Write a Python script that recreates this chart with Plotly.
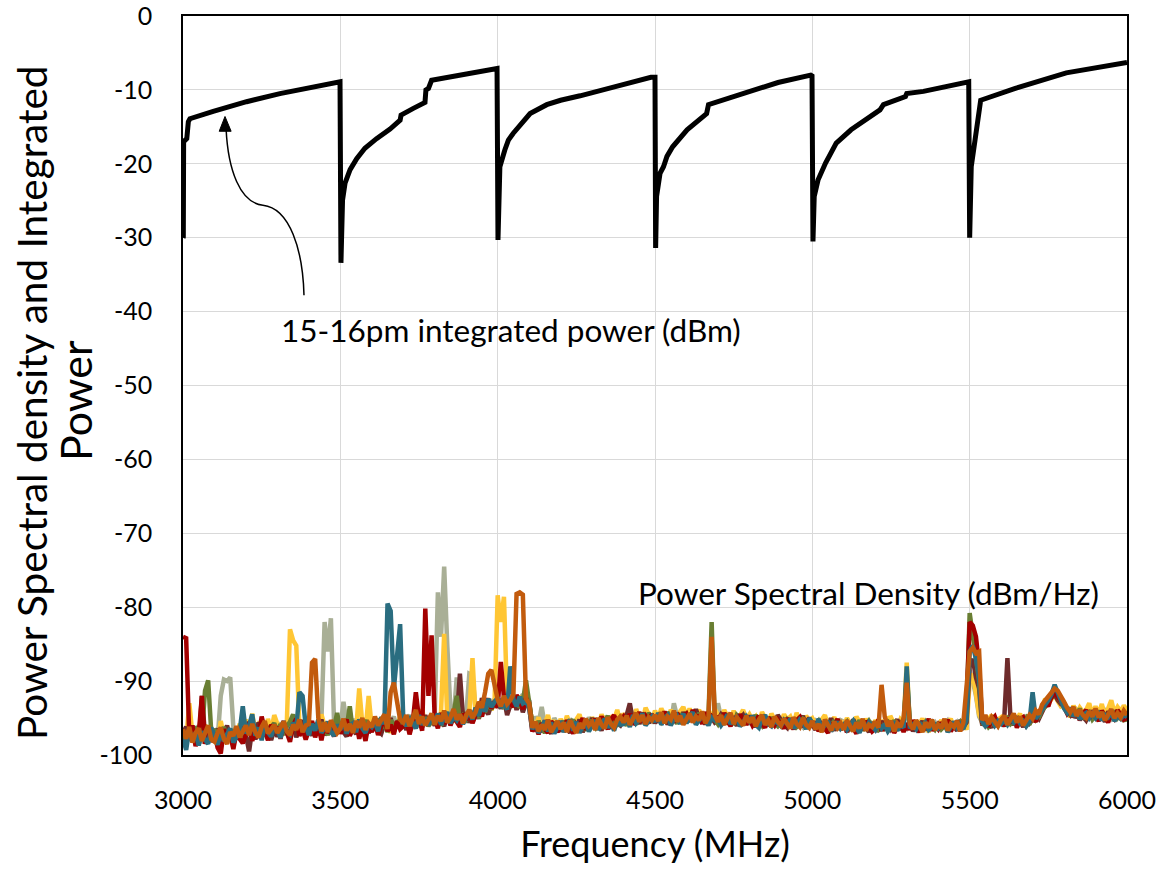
import plotly.graph_objects as go

# ---------------- data ----------------
psd_freq = list(range(3000, 6001, 10))  # MHz

psd_orange = [
-96.5,-97.8,-96.2,-98.3,-97.0,-96.4,-98.1,-97.2,-96.0,-97.9,
-98.2,-97.0,-96.3,-97.8,-98.5,-96.9,-97.4,-96.1,-97.6,-96.8,
-96.0,-97.3,-95.8,-96.9,-97.6,-96.2,-95.4,-97.1,-96.5,-95.9,
-97.0,-96.1,-95.5,-96.8,-97.3,-95.9,-96.6,-95.2,-96.9,-96.0,
-95.8,-87.5,-87.0,-95.0,-96.8,-95.6,-96.9,-95.3,-96.2,-97.0,
-96.4,-95.1,-96.7,-95.8,-97.0,-95.4,-96.3,-95.0,-96.6,-95.7,
-96.2,-94.8,-96.0,-95.3,-94.5,-96.5,-91.5,-90.2,-92.5,-95.2,
-95.6,-94.6,-96.1,-95.0,-93.9,-95.8,-94.8,-96.0,-95.1,-94.4,
-95.9,-94.7,-95.4,-94.0,-95.6,-94.9,-93.8,-95.2,-94.5,-95.7,
-94.6,-93.9,-95.0,-94.2,-92.8,-93.6,-91.5,-89.0,-88.5,-90.8,
-92.5,-93.4,-92.0,-93.1,-92.6,-91.8,-78.2,-78.0,-78.3,-92.4,
-93.0,-96.3,-95.5,-96.8,-95.9,-96.6,-95.2,-96.9,-96.0,-95.4,
-96.5,-95.6,-96.9,-95.3,-96.2,-97.0,-95.7,-96.4,-95.1,-96.0,
-95.5,-96.6,-95.0,-95.9,-96.4,-94.9,-95.8,-96.3,-95.2,-94.8,
-95.6,-94.7,-95.9,-95.1,-94.3,-95.5,-94.6,-95.8,-94.9,-95.3,
-94.6,-95.4,-94.2,-95.7,-94.8,-95.2,-94.0,-95.5,-94.7,-95.9,
-95.0,-94.4,-95.6,-94.8,-95.3,-94.1,-95.7,-94.9,-84.0,-94.6,
-95.5,-94.6,-95.9,-95.0,-94.3,-95.8,-94.9,-95.4,-96.0,-94.7,
-95.6,-94.9,-96.1,-95.2,-94.6,-95.9,-95.3,-96.2,-94.8,-95.5,
-96.0,-95.1,-95.7,-96.4,-94.9,-95.8,-96.2,-95.0,-95.9,-96.3,
-95.4,-96.5,-95.8,-96.9,-95.2,-96.1,-96.7,-95.5,-96.3,-95.7,
-96.6,-95.3,-96.0,-96.8,-95.6,-96.4,-95.1,-96.7,-95.9,-96.2,
-95.5,-96.3,-90.5,-94.8,-96.1,-95.4,-96.8,-95.7,-96.2,-95.0,
-90.2,-95.8,-96.5,-95.3,-96.0,-96.9,-95.6,-96.3,-95.2,-96.6,
-95.9,-96.4,-95.1,-96.7,-95.8,-96.2,-95.4,-96.8,-95.6,-90.0,
-86.0,-85.5,-86.2,-86.0,-95.3,-94.6,-95.8,-94.9,-95.5,-96.1,
-95.2,-94.7,-95.9,-95.0,-94.4,-95.6,-94.8,-96.0,-95.3,-94.6,
-95.1,-94.0,-94.5,-93.2,-92.6,-92.0,-91.6,-91.0,-91.3,-92.2,
-92.8,-93.6,-94.2,-93.5,-94.7,-93.9,-94.6,-95.0,-94.1,-94.8,
-93.7,-94.9,-94.2,-95.3,-94.4,-93.8,-95.0,-94.3,-94.9,-94.0,
-94.6]

psd_red = [
-84.0,-84.2,-97.5,-96.0,-98.8,-97.2,-92.0,-98.5,-96.8,-97.9,
-97.0,-99.0,-99.8,-96.5,-98.0,-97.3,-99.2,-96.9,-97.8,-98.4,
-97.2,-95.5,-98.1,-96.3,-97.7,-94.8,-96.6,-98.0,-95.9,-96.9,
-96.2,-97.8,-95.7,-96.9,-98.2,-96.0,-95.1,-97.4,-96.5,-97.9,
-96.7,-95.4,-97.6,-96.1,-98.0,-95.8,-97.0,-96.3,-97.5,-95.9,
-97.1,-96.0,-95.2,-97.4,-96.6,-95.5,-97.8,-96.2,-98.1,-95.8,
-96.9,-95.6,-97.3,-96.0,-95.0,-96.8,-95.9,-97.2,-95.4,-96.5,
-96.1,-95.2,-97.2,-95.6,-91.5,-95.1,-96.7,-80.2,-92.0,-83.8,
-95.0,-96.4,-94.3,-95.8,-94.6,-96.0,-94.9,-95.5,-96.2,-94.4,
-95.3,-94.1,-95.7,-94.6,-93.5,-94.8,-93.0,-92.4,-93.7,-92.9,
-93.6,-87.4,-92.2,-93.9,-92.8,-93.5,-91.9,-92.7,-93.8,-92.3,
-93.4,-96.8,-96.0,-97.2,-95.7,-96.5,-97.0,-95.4,-96.3,-96.9,
-95.9,-96.7,-95.3,-96.4,-97.1,-95.8,-96.2,-95.0,-96.6,-95.5,
-96.3,-95.1,-96.0,-94.8,-95.7,-96.5,-95.2,-94.6,-95.9,-95.4,
-94.8,-95.7,-94.4,-95.9,-95.0,-94.2,-95.6,-94.7,-95.3,-94.5,
-95.3,-94.5,-95.8,-94.1,-95.4,-94.7,-95.6,-94.3,-95.1,-94.8,
-94.4,-95.5,-93.9,-95.1,-94.6,-95.8,-94.2,-95.3,-94.7,-95.0,
-94.9,-95.7,-94.3,-95.4,-96.1,-94.8,-95.6,-94.5,-95.2,-95.9,
-95.1,-96.0,-95.4,-94.7,-95.8,-96.3,-94.9,-95.5,-96.0,-95.2,
-95.7,-96.4,-95.0,-95.9,-96.5,-95.3,-94.9,-96.2,-95.6,-95.0,
-96.2,-95.5,-96.8,-95.9,-96.5,-97.0,-95.7,-96.4,-95.1,-96.6,
-95.8,-96.9,-95.5,-96.3,-97.1,-95.9,-96.6,-95.4,-96.1,-96.8,
-96.4,-95.2,-96.7,-95.9,-96.3,-95.6,-97.0,-96.1,-95.5,-96.9,
-95.7,-96.6,-95.3,-96.2,-96.9,-95.8,-96.4,-95.1,-96.7,-96.0,
-96.5,-95.6,-96.3,-95.2,-96.8,-96.0,-95.4,-96.6,-95.9,-93.0,
-82.0,-82.5,-84.0,-88.0,-95.8,-94.9,-96.2,-95.3,-94.8,-95.9,
-95.4,-96.1,-95.0,-95.7,-94.6,-96.3,-95.2,-94.9,-96.0,-95.5,
-94.8,-95.5,-94.2,-93.6,-92.9,-93.4,-92.1,-91.5,-92.3,-92.8,
-93.5,-94.4,-93.8,-94.9,-94.1,-95.3,-94.5,-93.9,-95.1,-94.3,
-94.8,-95.4,-94.0,-94.9,-95.6,-94.4,-95.1,-93.9,-94.7,-95.2,
-95.0]

psd_maroon = [
-97.0,-96.2,-98.0,-96.8,-97.5,-98.6,-92.0,-97.3,-96.5,-98.2,
-97.6,-96.4,-98.9,-97.1,-96.0,-97.8,-98.4,-96.7,-97.4,-96.1,
-97.3,-99.5,-96.5,-97.9,-95.6,-96.8,-97.4,-96.1,-98.0,-96.6,
-97.5,-96.3,-95.4,-97.2,-96.7,-95.9,-97.6,-96.4,-95.3,-97.0,
-96.1,-97.4,-95.7,-96.9,-95.2,-97.3,-96.5,-95.8,-97.1,-96.4,
-95.6,-96.9,-97.5,-95.9,-96.3,-97.2,-95.5,-96.8,-95.3,-97.0,
-96.3,-95.2,-96.7,-97.1,-95.8,-96.2,-95.0,-96.9,-95.6,-96.4,
-95.5,-96.6,-94.9,-96.2,-95.7,-95.0,-96.3,-94.6,-95.9,-95.2,
-96.0,-94.8,-95.3,-96.1,-94.5,-95.7,-94.2,-95.4,-89.0,-94.9,
-94.3,-95.6,-94.7,-93.9,-95.1,-92.3,-93.8,-94.5,-93.2,-92.8,
-92.9,-93.7,-92.4,-94.6,-93.3,-92.1,-93.9,-92.6,-94.2,-93.0,
-92.8,-95.9,-96.7,-95.6,-96.9,-95.3,-96.4,-97.1,-95.8,-96.2,
-96.8,-95.4,-96.1,-97.0,-95.6,-96.5,-95.2,-96.9,-95.9,-96.3,
-95.0,-96.2,-95.6,-96.7,-95.3,-95.9,-96.4,-95.1,-95.7,-96.0,
-95.2,-94.6,-93.0,-95.4,-94.9,-95.8,-94.3,-95.1,-95.7,-94.6,
-95.7,-94.9,-95.2,-94.4,-95.9,-94.6,-95.3,-94.8,-95.6,-94.2,
-95.2,-94.7,-95.4,-93.8,-95.0,-94.5,-95.9,-94.3,-94.9,-95.6,
-95.3,-94.5,-95.0,-95.8,-94.7,-95.4,-96.0,-95.1,-94.6,-95.5,
-94.7,-95.5,-96.2,-95.0,-95.7,-94.8,-96.0,-95.4,-95.9,-94.6,
-95.4,-95.9,-96.3,-95.1,-95.6,-96.1,-95.5,-94.7,-96.0,-95.3,
-95.9,-96.6,-95.3,-96.1,-95.8,-96.4,-95.0,-96.7,-95.6,-96.2,
-96.3,-95.7,-96.5,-95.2,-96.0,-96.8,-95.5,-96.2,-96.9,-95.6,
-96.1,-96.8,-95.4,-96.3,-95.7,-96.5,-95.9,-95.2,-96.6,-95.8,
-96.3,-95.5,-96.8,-95.9,-96.2,-95.4,-96.6,-96.0,-95.6,-96.4,
-95.8,-96.3,-95.5,-96.6,-95.7,-96.1,-96.7,-95.3,-96.2,-95.6,
-88.0,-87.0,-89.5,-91.0,-96.0,-95.2,-95.7,-96.3,-95.0,-95.8,
-95.6,-95.0,-86.9,-95.3,-95.9,-94.8,-95.5,-96.2,-95.1,-95.7,
-95.2,-94.6,-95.1,-94.0,-93.3,-92.7,-92.2,-91.8,-92.6,-93.1,
-93.0,-94.1,-94.6,-93.8,-95.0,-94.2,-94.8,-95.3,-94.4,-94.9,
-94.3,-95.0,-94.6,-95.5,-94.1,-94.8,-95.2,-94.5,-95.0,-94.7,
-94.5]

psd_gold = [
-96.8,-98.0,-93.0,-97.2,-96.4,-98.3,-97.0,-95.9,-97.7,-96.6,
-96.9,-98.2,-95.4,-97.5,-96.2,-98.0,-96.8,-97.3,-95.8,-96.5,
-95.2,-96.9,-94.4,-97.0,-95.9,-96.4,-97.5,-95.1,-96.8,-94.6,
-95.8,-96.7,-97.2,-95.5,-83.0,-84.5,-85.2,-96.2,-95.3,-96.9,
-95.4,-96.8,-95.9,-97.3,-94.5,-96.1,-97.0,-95.6,-96.4,-97.1,
-95.8,-96.5,-97.2,-95.3,-96.0,-96.7,-91.0,-95.8,-96.6,-92.0,
-96.3,-95.1,-96.8,-94.9,-96.1,-95.4,-97.0,-95.7,-96.2,-94.8,
-95.9,-94.7,-96.3,-95.2,-94.5,-95.8,-93.8,-96.0,-94.9,-95.5,
-94.6,-95.8,-94.2,-83.6,-95.3,-94.4,-95.6,-94.0,-95.1,-94.7,
-95.4,-94.3,-86.9,-94.8,-93.7,-94.5,-93.1,-92.7,-93.9,-93.0,
-78.4,-82.0,-78.6,-92.8,-93.6,-92.2,-93.4,-92.0,-93.1,-92.6,
-93.3,-95.4,-96.1,-94.9,-96.5,-95.7,-94.6,-96.2,-95.3,-96.8,
-95.1,-96.3,-94.7,-95.8,-96.6,-95.2,-94.5,-96.0,-95.4,-96.5,
-94.9,-95.7,-96.3,-94.5,-95.5,-96.0,-94.7,-95.2,-93.9,-95.6,
-94.4,-95.2,-94.0,-95.6,-93.8,-94.9,-95.5,-93.6,-94.7,-95.4,
-94.0,-95.1,-93.7,-94.8,-95.5,-93.9,-94.6,-95.3,-94.1,-93.5,
-94.8,-93.7,-95.2,-94.4,-93.9,-95.0,-94.3,-95.6,-94.5,-93.8,
-94.6,-95.2,-93.9,-94.9,-95.6,-94.0,-95.3,-94.7,-93.9,-95.1,
-94.5,-95.3,-94.8,-95.9,-94.2,-95.0,-95.7,-94.4,-95.2,-94.9,
-95.6,-94.5,-95.2,-94.8,-95.9,-94.3,-95.4,-96.0,-94.7,-95.3,
-95.0,-95.8,-96.4,-95.2,-94.6,-96.0,-95.5,-94.9,-96.2,-95.4,
-96.1,-95.0,-95.7,-96.5,-94.8,-95.6,-96.3,-95.1,-95.8,-96.6,
-95.3,-96.0,-95.6,-96.7,-95.0,-94.9,-95.8,-96.4,-95.2,-95.7,
-87.5,-96.1,-95.4,-96.6,-95.8,-95.1,-96.0,-96.9,-95.5,-96.2,
-96.0,-95.3,-96.5,-95.8,-95.1,-96.4,-95.7,-96.1,-95.4,-96.6,
-90.0,-89.0,-92.0,-94.5,-95.4,-96.0,-95.1,-94.6,-95.8,-95.2,
-94.9,-95.6,-95.2,-94.5,-95.9,-95.0,-94.4,-95.7,-95.3,-94.8,
-95.4,-93.9,-94.8,-93.6,-92.4,-93.0,-92.5,-91.9,-92.7,-93.4,
-93.2,-93.8,-94.9,-93.3,-94.5,-93.6,-94.2,-93.9,-93.0,-94.6,
-93.4,-94.5,-93.1,-94.8,-93.7,-92.6,-94.3,-93.5,-94.1,-93.3,
-94.0]

psd_sage = [
-97.5,-96.3,-98.1,-96.9,-97.6,-96.0,-98.4,-97.1,-96.5,-97.8,
-96.7,-97.9,-92.0,-89.8,-90.0,-89.5,-96.2,-97.5,-96.8,-98.0,
-96.4,-97.2,-95.8,-97.6,-96.1,-95.3,-97.0,-96.6,-95.5,-96.9,
-96.8,-95.6,-97.1,-96.2,-95.4,-96.9,-95.8,-97.3,-96.0,-95.5,
-96.6,-95.9,-97.2,-96.0,-95.2,-82.0,-86.0,-81.5,-95.6,-94.8,
-96.3,-92.8,-95.7,-96.8,-95.1,-96.5,-95.8,-97.0,-95.4,-96.2,
-95.6,-96.7,-95.2,-96.1,-94.9,-96.4,-95.5,-94.8,-96.3,-95.7,
-96.0,-95.1,-94.6,-95.9,-95.3,-96.2,-94.7,-95.6,-94.9,-95.8,
-94.5,-78.0,-84.0,-74.5,-85.3,-94.0,-95.0,-89.5,-94.2,-95.0,
-94.6,-89.0,-89.2,-94.0,-93.4,-94.7,-92.9,-93.6,-92.5,-93.3,
-93.1,-92.4,-93.8,-92.0,-93.5,-92.7,-93.2,-92.5,-91.8,-93.4,
-92.6,-96.2,-94.8,-95.7,-93.5,-96.0,-95.3,-96.6,-95.0,-95.8,
-96.2,-95.5,-96.8,-95.1,-95.9,-96.4,-95.0,-95.7,-96.3,-94.9,
-95.7,-95.0,-96.1,-95.4,-94.8,-95.9,-95.3,-96.0,-94.6,-95.5,
-95.1,-94.5,-95.6,-94.9,-95.3,-94.2,-95.8,-95.0,-94.4,-95.7,
-94.9,-95.6,-94.3,-95.2,-94.5,-95.9,-93.0,-94.8,-95.4,-94.6,
-95.3,-94.6,-95.0,-95.7,-94.2,-95.4,-94.8,-95.1,-94.7,-95.5,
-93.0,-95.0,-94.6,-95.3,-95.8,-94.4,-95.1,-95.7,-94.8,-95.2,
-95.9,-94.6,-95.3,-95.7,-94.9,-96.1,-95.2,-94.8,-95.6,-95.1,
-95.2,-95.8,-94.9,-96.0,-95.4,-95.0,-95.7,-96.2,-95.1,-95.8,
-96.1,-95.4,-95.9,-96.5,-95.6,-95.1,-96.3,-95.7,-96.0,-95.3,
-95.5,-96.2,-95.9,-95.3,-96.6,-95.8,-96.0,-95.4,-96.4,-95.7,
-95.9,-95.4,-96.2,-95.6,-96.5,-95.2,-96.0,-95.8,-96.3,-95.5,
-94.0,-95.9,-96.3,-95.7,-96.0,-95.5,-96.4,-95.8,-96.1,-95.6,
-96.2,-95.7,-96.0,-95.4,-96.3,-95.9,-95.5,-96.2,-95.8,-95.1,
-88.5,-90.0,-92.0,-94.8,-95.6,-95.2,-95.9,-95.4,-95.1,-95.7,
-95.1,-95.8,-95.4,-94.9,-95.6,-95.2,-95.0,-95.5,-94.6,-95.3,
-95.0,-94.9,-94.3,-93.8,-93.1,-92.8,-92.3,-91.7,-92.0,-93.0,
-93.4,-94.0,-94.3,-94.7,-93.9,-94.4,-94.9,-94.1,-94.6,-95.0,
-94.5,-94.2,-94.9,-94.0,-94.6,-95.1,-94.4,-94.8,-94.2,-94.9,
-94.7]

psd_teal = [
-97.8,-99.3,-96.5,-98.2,-97.0,-98.7,-96.8,-97.9,-98.5,-96.3,
-97.4,-98.6,-96.9,-98.1,-97.2,-96.4,-98.3,-97.6,-96.8,-93.4,
-97.1,-96.0,-94.5,-97.4,-96.3,-98.0,-95.8,-96.9,-97.5,-96.2,
-96.6,-97.7,-95.9,-96.8,-97.2,-95.6,-96.4,-91.5,-92.0,-96.1,
-97.3,-95.8,-96.7,-95.2,-97.0,-96.3,-95.5,-96.9,-97.4,-95.9,
-96.6,-95.4,-97.1,-96.0,-95.7,-96.9,-95.2,-96.4,-97.0,-95.8,
-96.2,-95.5,-96.8,-94.9,-95.8,-79.5,-80.5,-91.0,-86.0,-82.3,
-95.0,-96.1,-94.8,-95.7,-96.4,-94.6,-95.9,-95.1,-96.0,-94.7,
-95.6,-94.4,-95.9,-95.0,-94.2,-95.7,-94.8,-95.3,-94.5,-95.8,
-94.9,-94.0,-95.2,-93.6,-94.7,-93.3,-94.1,-92.4,-93.5,-92.9,
-92.2,-93.6,-92.8,-93.9,-88.0,-92.5,-93.4,-92.1,-93.0,-92.7,
-93.6,-96.5,-95.7,-97.0,-96.1,-95.4,-96.8,-95.6,-97.1,-96.3,
-95.4,-96.9,-96.0,-95.2,-96.7,-95.5,-97.0,-96.1,-95.7,-96.8,
-96.0,-95.3,-96.6,-95.7,-95.1,-96.3,-95.6,-96.7,-95.4,-95.9,
-95.8,-95.0,-96.2,-94.6,-95.7,-95.2,-94.4,-96.0,-95.3,-94.8,
-95.5,-94.3,-95.9,-95.0,-94.6,-96.0,-95.2,-94.7,-95.8,-94.4,
-95.7,-95.0,-94.2,-95.9,-95.4,-94.7,-95.2,-96.0,-94.9,-95.3,
-95.1,-96.0,-95.4,-94.5,-95.8,-95.2,-94.9,-96.1,-95.6,-94.8,
-95.4,-94.7,-95.9,-96.3,-95.1,-94.6,-95.8,-96.1,-95.3,-95.7,
-96.1,-95.3,-95.8,-95.1,-96.4,-95.9,-95.2,-95.6,-96.5,-95.0,
-95.7,-96.3,-95.1,-96.6,-95.9,-95.4,-96.8,-96.0,-95.5,-96.4,
-95.9,-96.6,-96.1,-95.4,-96.3,-97.0,-95.8,-96.5,-95.6,-96.2,
-96.6,-95.7,-96.4,-95.9,-96.8,-96.2,-95.5,-96.7,-95.9,-96.3,
-88.0,-96.4,-95.9,-96.5,-95.6,-96.3,-95.7,-96.6,-96.2,-95.9,
-96.4,-96.0,-95.6,-96.9,-96.1,-95.5,-96.3,-95.8,-96.5,-95.2,
-86.0,-85.2,-87.0,-89.5,-95.5,-96.1,-95.6,-95.1,-96.0,-95.4,
-95.8,-95.3,-95.9,-95.2,-95.6,-94.9,-95.7,-95.4,-96.1,-95.5,
-91.5,-95.1,-94.5,-93.7,-93.2,-92.6,-91.8,-90.5,-91.6,-92.5,
-93.7,-94.3,-93.6,-94.8,-94.0,-95.2,-94.6,-94.3,-95.0,-94.4,
-95.0,-94.4,-95.3,-94.6,-94.9,-94.2,-95.4,-94.7,-95.1,-94.5,
-94.9]

psd_olive = [
-97.2,-98.4,-96.6,-97.8,-96.1,-98.0,-97.3,-91.3,-89.9,-97.0,
-96.5,-98.3,-97.7,-96.2,-98.0,-97.1,-96.6,-97.9,-96.4,-97.5,
-96.0,-97.3,-95.6,-96.8,-97.4,-95.9,-96.5,-97.8,-96.2,-95.7,
-96.9,-95.8,-97.3,-96.1,-95.5,-94.5,-96.7,-95.9,-97.0,-96.3,
-95.7,-96.8,-96.0,-97.1,-95.6,-96.5,-97.3,-95.8,-96.2,-94.3,
-96.9,-95.6,-96.3,-93.4,-96.8,-95.5,-97.0,-96.1,-95.3,-96.7,
-95.8,-96.6,-95.1,-96.4,-95.7,-96.9,-95.3,-96.0,-95.6,-96.3,
-95.3,-96.0,-94.8,-95.6,-96.2,-95.0,-95.7,-94.9,-96.1,-95.4,
-95.1,-94.6,-96.0,-95.3,-94.8,-95.5,-94.3,-92.0,-95.6,-94.7,
-95.2,-94.1,-94.8,-93.7,-95.0,-93.5,-94.2,-92.9,-93.8,-93.1,
-93.3,-92.6,-93.7,-92.3,-93.5,-92.9,-92.1,-93.6,-92.8,-89.9,
-92.5,-95.8,-96.6,-95.4,-96.3,-97.0,-95.9,-96.4,-95.5,-96.7,
-96.1,-95.4,-96.6,-95.8,-95.2,-96.9,-96.0,-95.6,-96.7,-95.3,
-95.8,-96.3,-95.2,-96.0,-95.5,-94.7,-96.1,-95.4,-95.8,-94.9,
-95.4,-96.0,-94.8,-95.2,-95.9,-94.5,-95.1,-95.6,-94.3,-95.0,
-95.2,-94.7,-95.5,-94.9,-94.2,-95.3,-94.6,-95.8,-94.4,-95.1,
-94.5,-95.2,-94.8,-95.5,-94.3,-95.0,-95.4,-94.6,-82.0,-95.2,
-95.8,-94.9,-95.5,-94.7,-95.1,-95.9,-94.6,-95.0,-95.7,-95.3,
-95.2,-95.8,-94.6,-95.4,-96.0,-95.1,-95.6,-94.9,-95.7,-96.1,
-95.5,-96.0,-95.2,-95.7,-95.3,-96.2,-95.8,-95.1,-95.4,-96.0,
-95.6,-96.0,-95.4,-96.3,-96.0,-95.7,-96.2,-95.3,-96.5,-95.9,
-96.0,-95.5,-96.4,-95.8,-96.2,-95.3,-96.7,-95.9,-95.4,-96.1,
-95.8,-96.5,-95.9,-96.0,-95.6,-96.6,-95.3,-96.2,-95.7,-96.4,
-89.0,-95.7,-96.0,-95.4,-96.5,-96.1,-95.5,-96.3,-95.9,-96.5,
-95.7,-96.5,-96.1,-95.6,-96.4,-95.8,-96.0,-95.5,-96.3,-94.0,
-80.8,-84.0,-86.5,-90.0,-95.9,-95.4,-96.2,-95.7,-95.3,-96.0,
-95.3,-95.7,-95.1,-95.8,-95.4,-95.9,-95.2,-95.6,-95.0,-95.9,
-94.7,-95.3,-94.9,-93.9,-93.5,-92.5,-92.0,-91.4,-92.1,-92.9,
-93.3,-94.2,-94.5,-94.0,-94.8,-93.7,-95.1,-94.5,-94.2,-95.2,
-94.7,-94.1,-95.1,-94.4,-95.3,-94.6,-94.0,-95.0,-94.5,-95.3,
-95.2]

# 15-16pm integrated power (dBm)
int_freq = [3000, 3001, 3002, 3012, 3017, 3022, 3096, 3202, 3308, 3414, 3494,
            3499, 3502, 3504, 3507, 3515, 3531, 3552, 3578, 3615, 3658, 3690, 3693,
            3732, 3769, 3772, 3780, 3790, 3891, 3993,
            3998, 4001, 4004, 4007, 4023, 4034, 4049, 4071, 4103, 4156, 4200, 4262,
            4314, 4371, 4487, 4497,
            4500, 4502, 4505, 4516, 4527, 4538, 4556, 4602, 4660, 4664, 4670, 4776,
            4891, 4995,
            4999, 5002, 5006, 5018, 5042, 5076, 5123, 5215, 5226, 5296, 5300, 5353,
            5492,
            5497, 5500, 5505, 5517, 5523, 5535, 5645, 5761, 5807, 6000]
int_power = [-30.0, -29.9, -17.0, -16.6, -14.3, -13.9, -12.9, -11.6, -10.5, -9.6, -8.9,
             -8.9, -33.4, -30.3, -24.9, -22.6, -20.8, -19.3, -17.9, -16.6, -15.3, -14.1, -13.4,
             -12.5, -11.7, -10.0, -9.8, -8.7, -7.85, -7.1,
             -7.1, -30.3, -26.0, -20.4, -18.1, -16.8, -15.9, -14.7, -13.2, -12.0, -11.4, -10.8,
             -10.3, -9.6, -8.3, -8.3,
             -8.3, -31.4, -24.4, -21.3, -20.4, -19.0, -17.7, -15.4, -13.4, -13.2, -12.0, -10.5,
             -9.0, -8.0,
             -8.1, -30.5, -24.4, -22.2, -19.9, -17.2, -15.4, -12.7, -12.0, -10.9, -10.5, -10.2,
             -8.9,
             -8.9, -30.0, -20.4, -16.8, -14.5, -11.4, -9.8, -8.4, -7.7, -6.3]

y_tick_vals = [0, -10, -20, -30, -40, -50, -60, -70, -80, -90, -100]
y_tick_text = ["0", "-10", "-20", "-30", "-40", "-50", "-60", "-70", "-80", "-90", "-100"]
x_tick_vals = [3000, 3500, 4000, 4500, 5000, 5500, 6000]
x_tick_text = ["3000", "3500", "4000", "4500", "5000", "5500", "6000"]
y_title_lines = ["Power Spectral density and Integrated", "Power"]

series = [
    ("sage", psd_sage, "#A9AF96"),
    ("gold", psd_gold, "#FFC634"),
    ("maroon", psd_maroon, "#6E2B2B"),
    ("olive", psd_olive, "#697E33"),
    ("red", psd_red, "#A30000"),
    ("teal", psd_teal, "#2A6D80"),
    ("orange", psd_orange, "#C25B0D"),
]
for name, vals, _ in series:
    assert len(vals) == len(psd_freq), (name, len(vals))
assert len(int_freq) == len(int_power)

FONT = "Lato, 'Open Sans', sans-serif"
W, H = 1164, 869
ML, MR, MT, MB = 183, 37, 16, 114
PW, PH = W - ML - MR, H - MT - MB

fig = go.Figure()
for name, vals, col in series:
    fig.add_trace(go.Scatter(x=psd_freq, y=vals, mode="lines", name=name,
                             line=dict(color=col, width=4.5), hoverinfo="skip"))
fig.add_trace(go.Scatter(x=int_freq, y=int_power, mode="lines", name="integrated",
                         line=dict(color="black", width=5), hoverinfo="skip"))

# curved annotation arrow (decoration)
fig.add_shape(type="path", xref="x", yref="y",
              path="M 3137,-15.3 C 3143,-20.8 3181,-25.3 3254,-25.6 C 3340,-26.0 3381,-31.7 3384.5,-37.8",
              line=dict(color="black", width=1.5))
fig.add_shape(type="path", xref="x", yref="y",
              path="M 3133.5,-13.6 L 3115,-15.6 L 3153,-15.6 Z",
              line=dict(color="black", width=1), fillcolor="black")

fig.add_annotation(x=3305, y=-42.5, xref="x", yref="y", xanchor="left", yanchor="middle",
                   text="15-16pm integrated power (dBm)", showarrow=False,
                   font=dict(family=FONT, size=31.5, color="black"))
fig.add_annotation(x=4440, y=-78.1, xref="x", yref="y", xanchor="left", yanchor="middle",
                   text="Power Spectral Density (dBm/Hz)", showarrow=False,
                   font=dict(family=FONT, size=31.5, color="black"))

# y-axis title as two rotated lines (tighter line spacing as in the original)
for line_text, px_x, px_y, fsize in [(y_title_lines[0], 31, 403, 40.5),
                                      (y_title_lines[1], 75, 401, 43)]:
    fig.add_annotation(x=(px_x - ML) / PW, y=1 - (px_y - MT) / PH, xref="paper", yref="paper",
                       xanchor="center", yanchor="middle", textangle=-90,
                       text=line_text, showarrow=False,
                       font=dict(family=FONT, size=fsize, color="black"))

fig.update_layout(
    width=W, height=H,
    margin=dict(l=ML, r=MR, t=MT, b=MB),
    paper_bgcolor="white", plot_bgcolor="white",
    showlegend=False, hovermode=False,
    font=dict(family=FONT, color="black"),
)
fig.update_xaxes(range=[3000, 6000], tickvals=x_tick_vals, ticktext=x_tick_text,
                 showgrid=True, gridcolor="#D9D9D9", gridwidth=1.3,
                 showline=True, mirror=True, linecolor="black", linewidth=1.5,
                 ticks="", ticklabelstandoff=22, ticklabeloverflow="allow",
                 tickfont=dict(family=FONT, size=25), automargin=False,
                 title=dict(text="Frequency (MHz)", font=dict(family=FONT, size=36), standoff=19),
                 zeroline=False)
fig.update_yaxes(range=[-100, 0], tickvals=y_tick_vals, ticktext=y_tick_text,
                 showgrid=True, gridcolor="#D9D9D9", gridwidth=1.3,
                 showline=True, mirror=True, linecolor="black", linewidth=1.5,
                 ticks="", ticklabelstandoff=24, ticklabeloverflow="allow",
                 tickfont=dict(family=FONT, size=25), automargin=False,
                 zeroline=False)

fig.write_html("out.html")
